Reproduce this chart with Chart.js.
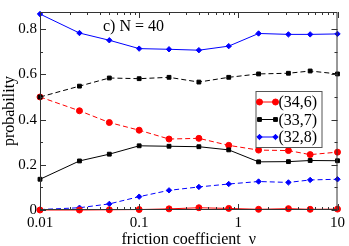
<!DOCTYPE html>
<html>
<head>
<meta charset="utf-8">
<script src="https://cdn.jsdelivr.net/npm/chart.js@4"></script>
<style>
  html, body { margin: 0; padding: 0; background: #fff; }
  #box { width: 349px; height: 246px; }
</style>
</head>
<body>
<div id="box"><canvas id="myChart"></canvas></div>
<script>
// friction coefficient values (x)
const nu = [0.01, 0.025, 0.05, 0.1, 0.2, 0.4, 0.8, 1.6, 3.2, 5.3, 10];

// solid lines
const p346Solid = [0.000, 0.000, 0.001, 0.002, 0.005, 0.010, 0.007, 0.003, 0.006, 0.003, 0.004];
const p337Solid = [0.136, 0.217, 0.247, 0.284, 0.282, 0.280, 0.266, 0.213, 0.214, 0.219, 0.218];
const p328Solid = [0.867, 0.783, 0.751, 0.714, 0.711, 0.707, 0.725, 0.781, 0.777, 0.777, 0.779];

// dashed lines
const p346Dashed = [0.500, 0.439, 0.387, 0.353, 0.314, 0.317, 0.286, 0.265, 0.263, 0.245, 0.256];
const p337Dashed = [0.500, 0.548, 0.584, 0.581, 0.587, 0.566, 0.587, 0.602, 0.605, 0.615, 0.602];
const p328Dashed = [0.002, 0.010, 0.027, 0.059, 0.087, 0.102, 0.115, 0.126, 0.122, 0.133, 0.136];

// ticks
const xTicks = [0.01, 0.1, 1, 10];
const xTickLabels = ['0.01', '0.1', '1', '10'];
const yTicks = [0, 0.2, 0.4, 0.6, 0.8];
const yTickLabels = ['0', '0.2', '0.4', '0.6', '0.8'];
const yMinorTicks = [0.1, 0.3, 0.5, 0.7];

const titleText = 'c) N = 40';

const FONT = "'Liberation Serif', 'DejaVu Serif', serif";

function pts(ys) {
    return nu.map((x, i) => ({ x: x, y: ys[i] }));
}

function serie(label, ys, color, style, dashed, order) {
    return {
        label: label,
        data: pts(ys),
        borderColor: color,
        backgroundColor: color,
        borderWidth: 1,
        borderDash: dashed ? [5, 3] : [],
        pointStyle: style,
        pointRadius: style === 'circle' ? 3 : 2.7,
        pointBorderWidth: 1,
        fill: false,
        tension: 0,
        clip: false,
        order: order,
        showInLegend: !dashed
    };
}

// frame, inward ticks, title and legend
const framePlugin = {
    id: 'frame',
    afterDatasetsDraw(chart) {
        const c = chart.ctx;
        const a = chart.chartArea;
        const xs = chart.scales.x;
        const ys = chart.scales.y;
        c.save();
        c.strokeStyle = '#333';
        c.lineWidth = 1;
        c.setLineDash([]);
        c.strokeRect(a.left + 0.5, a.top + 0.5, a.right - a.left - 1, a.bottom - a.top - 1);

        c.beginPath();
        // x ticks (major + minor)
        for (let d = -2; d <= 1; d++) {
            for (let m = 1; m <= 9; m++) {
                const v = m * Math.pow(10, d);
                if (v > 10.0001) continue;
                const px = Math.round(xs.getPixelForValue(v)) + 0.5;
                const len = m === 1 ? 6 : 3;
                c.moveTo(px, a.bottom); c.lineTo(px, a.bottom - len);
                c.moveTo(px, a.top); c.lineTo(px, a.top + len);
            }
        }
        // y ticks
        yTicks.concat(yMinorTicks).forEach(v => {
            const py = Math.round(ys.getPixelForValue(v)) + 0.5;
            const len = yTicks.includes(v) ? 6 : 3;
            c.moveTo(a.left, py); c.lineTo(a.left + len, py);
            c.moveTo(a.right, py); c.lineTo(a.right - len, py);
        });
        c.stroke();

        // title
        c.fillStyle = '#000';
        c.font = '16px ' + FONT;
        c.textBaseline = 'middle';
        c.textAlign = 'left';
        c.fillText(titleText, a.left + 63, a.top + 15);

        // legend
        const bx = a.right - 82, by = a.top + 79, bw = 66, bh = 56;
        c.fillStyle = '#fff';
        c.fillRect(bx, by, bw, bh);
        c.strokeStyle = '#555';
        c.strokeRect(bx + 0.5, by + 0.5, bw, bh);
        const shown = chart.data.datasets.filter(ds => ds.showInLegend);
        shown.forEach((ds, i) => {
            const yy = by + 11 + i * 17.5;
            const x1 = bx + 4, x2 = bx + 20;
            c.strokeStyle = ds.borderColor;
            c.fillStyle = ds.borderColor;
            c.beginPath();
            c.moveTo(x1, yy); c.lineTo(x2, yy);
            c.stroke();
            const opt = { pointStyle: ds.pointStyle, radius: ds.pointRadius, borderWidth: 1, rotation: 0 };
            Chart.helpers.drawPoint(c, opt, x1, yy);
            Chart.helpers.drawPoint(c, opt, x2, yy);
            c.fillStyle = '#000';
            c.fillText(ds.label, bx + 23, yy + 1);
        });
        c.restore();
    }
};

var ctx = document.getElementById('myChart');
var myChart = new Chart(ctx, {
    type: 'line',
    data: {
        datasets: [
            serie('(34,6)', p346Solid, '#ff0000', 'circle', false, 3),
            serie('(33,7)', p337Solid, '#000000', 'rect', false, 2),
            serie('(32,8)', p328Solid, '#0000ff', 'rectRot', false, 1),
            serie('(34,6)', p346Dashed, '#ff0000', 'circle', true, 6),
            serie('(33,7)', p337Dashed, '#000000', 'rect', true, 5),
            serie('(32,8)', p328Dashed, '#0000ff', 'rectRot', true, 7)
        ]
    },
    options: {
        responsive: true,
        maintainAspectRatio: false,
        animation: false,
        layout: { padding: { left: 0, right: 0, top: 0, bottom: 0 } },
        plugins: {
            legend: { display: false },
            tooltip: { enabled: false }
        },
        scales: {
            x: {
                type: 'logarithmic',
                min: 0.01,
                max: 10,
                grid: { display: false, drawTicks: false, tickLength: 0 },
                border: { display: false },
                afterBuildTicks: s => { s.ticks = xTicks.map(v => ({ value: v })); },
                afterFit: s => { s.height = 36; },
                ticks: {
                    autoSkip: false,
                    maxRotation: 0,
                    padding: 4,
                    color: '#000',
                    font: { family: FONT, size: 15 },
                    callback: (v, i) => xTickLabels[i]
                },
                title: {
                    display: true,
                    text: 'friction coefficient  ν',
                    color: '#000',
                    font: { family: FONT, size: 16 },
                    padding: { top: 0, bottom: -3 }
                }
            },
            y: {
                min: 0,
                max: 0.876,
                grid: { display: false, drawTicks: false, tickLength: 0 },
                border: { display: false },
                afterBuildTicks: s => { s.ticks = yTicks.map(v => ({ value: v })); },
                afterFit: s => { s.width = 40; },
                ticks: {
                    autoSkip: false,
                    padding: 3,
                    color: '#000',
                    font: { family: FONT, size: 15 },
                    callback: (v, i) => yTickLabels[i]
                },
                title: {
                    display: true,
                    text: 'probability',
                    color: '#000',
                    font: { family: FONT, size: 16 },
                    padding: { top: 0, bottom: 0 }
                }
            }
        }
    },
    plugins: [framePlugin]
});
</script>
</body>
</html>
